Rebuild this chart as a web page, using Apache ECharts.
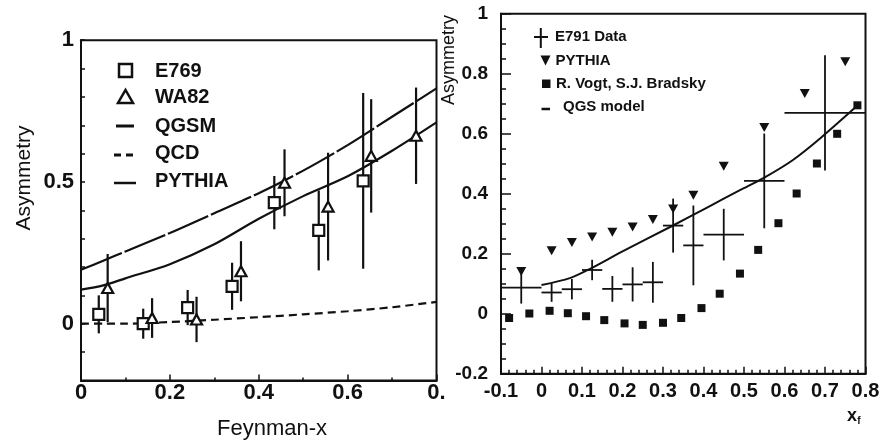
<!DOCTYPE html>
<html>
<head>
<meta charset="utf-8">
<title>Asymmetry</title>
<script src="https://cdn.jsdelivr.net/npm/echarts@6/dist/echarts.min.js"></script>
<style>
    html, body { margin: 0; padding: 0; background: #fff; }
    #main { width: 887px; height: 445px; }
</style>
</head>
<body>
<div id="main"></div>
<script>
// left panel: E769 / WA82 against Feynman-x
var e769X = [0.04, 0.14, 0.24, 0.34, 0.435, 0.535, 0.635];
var e769Y = [0.033, 0.0, 0.057, 0.132, 0.427, 0.329, 0.504];
var e769Err = [0.067, 0.053, 0.062, 0.083, 0.094, 0.141, 0.31];

var wa82X = [0.06, 0.16, 0.26, 0.36, 0.458, 0.556, 0.653, 0.754];
var wa82Y = [0.126, 0.02, 0.015, 0.185, 0.497, 0.413, 0.592, 0.663];
var wa82Err = [0.12, 0.07, 0.08, 0.106, 0.118, 0.19, 0.2, 0.17];

var curveX = [0, 0.05, 0.1, 0.2, 0.3, 0.4, 0.5, 0.6, 0.7, 0.8];
var qgsmY = [0.19, 0.222, 0.255, 0.32, 0.39, 0.46, 0.54, 0.63, 0.73, 0.83];
var pythiaLY = [0.12, 0.135, 0.16, 0.21, 0.28, 0.37, 0.45, 0.52, 0.61, 0.71];
var qcdY = [0, 0, 0, 0.006, 0.014, 0.023, 0.033, 0.044, 0.058, 0.077];

// right panel: E791 against x_f
var e791X = [-0.05, 0.025, 0.075, 0.125, 0.175, 0.225, 0.275, 0.325, 0.375, 0.45, 0.55, 0.7];
var e791Xerr = [0.05, 0.025, 0.025, 0.025, 0.025, 0.025, 0.025, 0.025, 0.025, 0.05, 0.05, 0.1];
var e791Y = [0.087, 0.071, 0.082, 0.146, 0.083, 0.098, 0.105, 0.294, 0.228, 0.264, 0.443, 0.67];
var e791Yerr = [0.053, 0.031, 0.034, 0.034, 0.043, 0.057, 0.068, 0.09, 0.133, 0.086, 0.158, 0.192];

var pythiaX = [-0.05, 0.025, 0.075, 0.125, 0.175, 0.225, 0.275, 0.325, 0.375, 0.45, 0.55, 0.65, 0.75];
var pythiaY = [0.141, 0.21, 0.238, 0.256, 0.272, 0.289, 0.314, 0.349, 0.395, 0.492, 0.621, 0.734, 0.84];

var vogtX = [-0.08, -0.03, 0.02, 0.065, 0.11, 0.155, 0.205, 0.25, 0.3, 0.345, 0.395, 0.44, 0.49, 0.535, 0.585, 0.63, 0.68, 0.73, 0.78];
var vogtY = [-0.014, 0.001, 0.01, 0.002, -0.008, -0.021, -0.032, -0.037, -0.03, -0.014, 0.019, 0.067, 0.134, 0.213, 0.302, 0.401, 0.501, 0.6, 0.695];

var qgsX = [0, 0.07, 0.12, 0.2, 0.32, 0.41, 0.49, 0.55, 0.62, 0.69, 0.78];
var qgsY = [0.096, 0.119, 0.15, 0.208, 0.291, 0.355, 0.412, 0.454, 0.512, 0.587, 0.694];

var leftYLabels = ['0', '0.5', '1'];

var FONT = 'Liberation Sans';
var INK = '#111';

function pairs(xs, ys) {
    return xs.map(function(x, i) { return [x, ys[i]]; });
}

function bars(xs, ys, errs) {
    return xs.map(function(x, i) { return [x, ys[i] - errs[i], ys[i] + errs[i]]; });
}

function errorBar(params, api) {
    var lo = api.coord([api.value(0), api.value(1)]);
    var hi = api.coord([api.value(0), api.value(2)]);
    return {
        type: 'line',
        shape: { x1: lo[0], y1: lo[1], x2: hi[0], y2: hi[1] },
        style: { stroke: INK, lineWidth: 2.2 }
    };
}

function cross(params, api) {
    var x = api.value(0), y = api.value(1), dx = api.value(2), dy = api.value(3);
    var l = api.coord([x - dx, y]), r = api.coord([x + dx, y]);
    var t = api.coord([x, y + dy]), b = api.coord([x, y - dy]);
    return {
        type: 'group',
        children: [
            { type: 'line', shape: { x1: l[0], y1: l[1], x2: r[0], y2: r[1] }, style: { stroke: INK, lineWidth: 1.8 } },
            { type: 'line', shape: { x1: t[0], y1: t[1], x2: b[0], y2: b[1] }, style: { stroke: INK, lineWidth: 1.8 } }
        ]
    };
}

function axisBase() {
    return {
        type: 'value',
        axisLine: { show: true, onZero: false, lineStyle: { color: INK, width: 2 } },
        axisTick: { show: true, inside: true, lineStyle: { color: INK, width: 1.5 } },
        splitLine: { show: false },
        axisLabel: { color: INK, fontFamily: FONT, fontWeight: 'bold' }
    };
}

var leftX = axisBase();
Object.assign(leftX, {
    gridIndex: 0, min: 0, max: 0.8, interval: 0.2,
    minorTick: { show: true, splitNumber: 2, length: 3, lineStyle: { color: INK, width: 1.5 } }
});
leftX.axisTick.length = 6;
leftX.axisLabel.fontSize = 22;
leftX.axisLabel.margin = 2;
leftX.axisLabel.formatter = function(v) {
    return Math.abs(v - 0.8) < 1e-6 ? '0.' : String(Math.round(v * 10) / 10);
};

var leftY = axisBase();
Object.assign(leftY, { gridIndex: 0, min: -0.2, max: 1, interval: 0.1 });
leftY.axisTick.length = 4;
leftY.axisLabel.fontSize = 22;
leftY.axisLabel.margin = 7;
leftY.axisLabel.formatter = function(v) {
    var s = String(Math.round(v * 10) / 10);
    return leftYLabels.indexOf(s) >= 0 ? s : '';
};

var rightX = axisBase();
Object.assign(rightX, {
    gridIndex: 1, min: -0.1, max: 0.8, interval: 0.1,
    minorTick: { show: true, splitNumber: 5, length: 4, lineStyle: { color: INK, width: 1.5 } }
});
rightX.axisTick.length = 7;
rightX.axisLabel.fontSize = 20;
rightX.axisLabel.margin = 8;

var rightY = axisBase();
Object.assign(rightY, {
    gridIndex: 1, min: -0.2, max: 1, interval: 0.2,
    minorTick: { show: true, splitNumber: 4, length: 5, lineStyle: { color: INK, width: 1.5 } }
});
rightY.axisTick.length = 10;
rightY.axisLabel.fontSize = 19;
rightY.axisLabel.margin = 13;

function txt(text, x, y, size, extra) {
    var el = {
        type: 'text', x: x, y: y, silent: true,
        style: { text: text, fill: INK, font: (extra && extra.weight || 'bold') + ' ' + size + 'px "' + FONT + '"', align: 'left', verticalAlign: 'middle' }
    };
    if (extra && extra.rotation) el.rotation = extra.rotation;
    if (extra && extra.align) el.style.align = extra.align;
    return el;
}

var legendMarks = [
    // left legend
    { type: 'rect', shape: { x: 119, y: 64, width: 13, height: 13 }, style: { fill: '#fff', stroke: INK, lineWidth: 2.5 } },
    { type: 'polygon', shape: { points: [[118, 103], [133, 103], [125.5, 90]] }, style: { fill: '#fff', stroke: INK, lineWidth: 2.5 } },
    { type: 'line', shape: { x1: 116, y1: 126, x2: 134, y2: 126 }, style: { stroke: INK, lineWidth: 3 } },
    { type: 'line', shape: { x1: 114, y1: 155, x2: 134, y2: 155 }, style: { stroke: INK, lineWidth: 3, lineDash: [7, 5] } },
    { type: 'line', shape: { x1: 114, y1: 183, x2: 136, y2: 183 }, style: { stroke: INK, lineWidth: 2.5 } },
    txt('E769', 155, 71, 20),
    txt('WA82', 155, 97.5, 20),
    txt('QGSM', 155, 126, 20),
    txt('QCD', 155, 153, 20),
    txt('PYTHIA', 155, 181, 20),
    // right legend
    { type: 'line', shape: { x1: 540.8, y1: 28, x2: 540.8, y2: 48 }, style: { stroke: INK, lineWidth: 2 } },
    { type: 'line', shape: { x1: 534, y1: 37, x2: 548, y2: 37 }, style: { stroke: INK, lineWidth: 2 } },
    { type: 'polygon', shape: { points: [[540.5, 55.5], [550.5, 55.5], [545.5, 65.5]] }, style: { fill: INK } },
    { type: 'rect', shape: { x: 542, y: 79.5, width: 8.5, height: 8.5 }, style: { fill: INK } },
    { type: 'line', shape: { x1: 541.5, y1: 109, x2: 550, y2: 109 }, style: { stroke: INK, lineWidth: 2.5 } },
    txt('E791 Data', 555, 36.5, 15),
    txt('PYTHIA', 555.5, 61, 15),
    txt('R. Vogt, S.J. Bradsky', 556, 84, 15),
    txt('QGS model', 563, 107, 15),
    // axis titles
    txt('Asymmetry', 24, 178, 21, { rotation: Math.PI / 2, align: 'center', weight: 'normal' }),
    txt('Feynman-x', 272, 429, 22, { align: 'center', weight: 'normal' }),
    txt('Asymmetry', 449, 60, 18, { rotation: Math.PI / 2, align: 'center', weight: 'normal' }),
    txt('x', 852, 416, 18, { align: 'center', weight: 'bold' }),
    txt('f', 859, 421, 10, { align: 'center', weight: 'bold' })
];

var myChart = echarts.init(document.getElementById('main'));

var option = {
    animation: false,
    backgroundColor: '#fff',
    grid: [
        { left: 81, right: 450.5, top: 40.2, bottom: 64.6, show: true, borderColor: INK, borderWidth: 2 },
        { left: 501, right: 21.5, top: 13.8, bottom: 71.2, show: true, borderColor: INK, borderWidth: 2 }
    ],
    xAxis: [leftX, rightX],
    yAxis: [leftY, rightY],
    graphic: legendMarks,
    series: [
        {
            name: 'QGSM', type: 'line', xAxisIndex: 0, yAxisIndex: 0,
            data: pairs(curveX, qgsmY), smooth: 0.3, showSymbol: false,
            lineStyle: { color: INK, width: 2.2, type: [44, 3] }
        },
        {
            name: 'PYTHIA', type: 'line', xAxisIndex: 0, yAxisIndex: 0,
            data: pairs(curveX, pythiaLY), smooth: 0.3, showSymbol: false,
            lineStyle: { color: INK, width: 2.2 }
        },
        {
            name: 'QCD', type: 'line', xAxisIndex: 0, yAxisIndex: 0,
            data: pairs(curveX, qcdY), smooth: 0.3, showSymbol: false,
            lineStyle: { color: INK, width: 2.2, type: [8, 5] }
        },
        {
            name: 'E769 err', type: 'custom', xAxisIndex: 0, yAxisIndex: 0,
            renderItem: errorBar, encode: { x: 0, y: [1, 2] },
            data: bars(e769X, e769Y, e769Err), z: 3
        },
        {
            name: 'WA82 err', type: 'custom', xAxisIndex: 0, yAxisIndex: 0,
            renderItem: errorBar, encode: { x: 0, y: [1, 2] },
            data: bars(wa82X, wa82Y, wa82Err), z: 3
        },
        {
            name: 'E769', type: 'scatter', xAxisIndex: 0, yAxisIndex: 0,
            data: pairs(e769X, e769Y), symbol: 'rect', symbolSize: 11,
            itemStyle: { color: '#fff', borderColor: INK, borderWidth: 2.2, opacity: 1 }, z: 4
        },
        {
            name: 'WA82', type: 'scatter', xAxisIndex: 0, yAxisIndex: 0,
            data: pairs(wa82X, wa82Y), symbol: 'triangle', symbolSize: [11, 10],
            itemStyle: { color: '#fff', borderColor: INK, borderWidth: 2.2, opacity: 1 }, z: 4
        },
        {
            name: 'QGS model', type: 'line', xAxisIndex: 1, yAxisIndex: 1,
            data: pairs(qgsX, qgsY), smooth: 0.3, showSymbol: false,
            lineStyle: { color: INK, width: 2 }
        },
        {
            name: 'E791 Data', type: 'custom', xAxisIndex: 1, yAxisIndex: 1,
            renderItem: cross, encode: { x: 0, y: 1 },
            data: e791X.map(function(x, i) { return [x, e791Y[i], e791Xerr[i], e791Yerr[i]]; }), z: 3
        },
        {
            name: 'PYTHIA', type: 'scatter', xAxisIndex: 1, yAxisIndex: 1,
            data: pairs(pythiaX, pythiaY), symbol: 'triangle', symbolRotate: 180, symbolSize: [10, 9],
            itemStyle: { color: INK, opacity: 1 }, z: 4
        },
        {
            name: 'R. Vogt, S.J. Bradsky', type: 'scatter', xAxisIndex: 1, yAxisIndex: 1,
            data: pairs(vogtX, vogtY), symbol: 'rect', symbolSize: 8,
            itemStyle: { color: INK, opacity: 1 }, z: 4
        }
    ]
};

myChart.setOption(option);
</script>
</body>
</html>
